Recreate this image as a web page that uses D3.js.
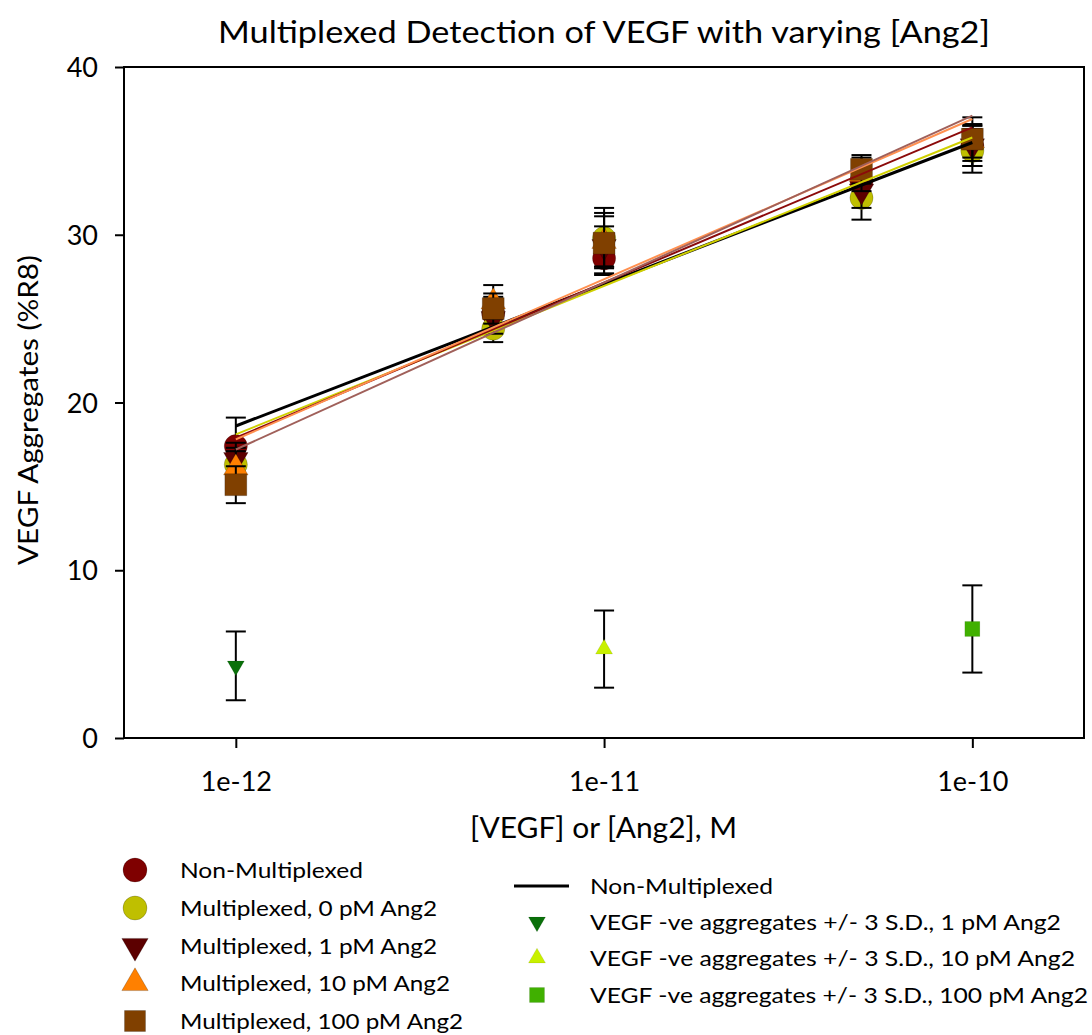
<!DOCTYPE html>
<html>
<head>
<meta charset="utf-8">
<script src="https://cdn.jsdelivr.net/npm/d3@7"></script>
<style>
  body { margin: 0; background: #fff; }
  text { font-family: Lato, "Open Sans", sans-serif; fill: #000; }
</style>
</head>
<body>
<svg id="chart" width="1092" height="1035"></svg>
<script>
// VEGF concentrations (M) at which aggregates were measured
const concentrations = [1e-12, 5e-12, 1e-11, 5e-11, 1e-10];

// Mean VEGF aggregates (%R8) and error for each assay condition
const nonMultiplexed    = [17.4, 25.3, 28.6, 33.2, 35.3];
const nonMultiplexedErr = [1.7, 1.0, 1.0, 1.0, 1.2];
const mux0pM            = [16.3, 24.4, 29.8, 32.2, 35.0];
const mux0pMErr         = [1.0, 0.8, 1.8, 1.3, 1.3];
const mux1pM            = [16.6, 25.0, 29.3, 32.6, 35.3];
const mux1pMErr         = [1.0, 0.9, 1.2, 1.0, 1.2];
const mux10pM           = [16.1, 26.0, 29.6, 33.6, 35.6];
const mux10pMErr        = [1.0, 1.0, 1.5, 1.0, 1.0];
const mux100pM          = [15.1, 25.6, 29.5, 33.9, 35.7];
const mux100pMErr       = [1.1, 0.9, 1.8, 0.85, 1.3];

// Linear fits against log10[VEGF], evaluated at 1e-12 and 1e-10 M
const fitFrom = [18.6, 18.1, 17.9, 17.8, 17.2];
const fitTo   = [35.5, 35.8, 36.4, 36.9, 37.1];
const fitRange = [1e-12, 1e-10];

// VEGF-negative background aggregates (+/- 3 S.D.)
const negConcentrations = [1e-12, 1e-11, 1e-10];
const negValues = [4.3, 5.3, 6.5];
const negErr    = [2.05, 2.3, 2.6];

const seriesLabels = ["Non-Multiplexed", "Multiplexed, 0 pM Ang2", "Multiplexed, 1 pM Ang2",
                      "Multiplexed, 10 pM Ang2", "Multiplexed, 100 pM Ang2"];
const negLabels = ["VEGF -ve aggregates +/- 3 S.D., 1 pM Ang2",
                   "VEGF -ve aggregates +/- 3 S.D., 10 pM Ang2",
                   "VEGF -ve aggregates +/- 3 S.D., 100 pM Ang2"];
const fitLegendLabel = "Non-Multiplexed";
const xTickValues = [1e-12, 1e-11, 1e-10];
const xTickLabels = ["1e-12", "1e-11", "1e-10"];
const yTickValues = [0, 10, 20, 30, 40];

const series = [
  { label: seriesLabels[0], values: nonMultiplexed, err: nonMultiplexedErr, shape: "circle", fill: "#7f0000", line: "#000000", lw: 3 },
  { label: seriesLabels[1], values: mux0pM,         err: mux0pMErr,         shape: "circle", fill: "#bfbf00", line: "#d0d000", lw: 2 },
  { label: seriesLabels[2], values: mux1pM,         err: mux1pMErr,         shape: "down",   fill: "#5c0000", line: "#8b0a0a", lw: 2 },
  { label: seriesLabels[3], values: mux10pM,        err: mux10pMErr,        shape: "up",     fill: "#ff8000", line: "#ff9050", lw: 2 },
  { label: seriesLabels[4], values: mux100pM,       err: mux100pMErr,       shape: "square", fill: "#804000", line: "#a0605a", lw: 2 }
];
series.forEach((s, i) => { s.fitFrom = fitFrom[i]; s.fitTo = fitTo[i]; });

const negSeries = negConcentrations.map((c, i) => ({
  x: c, y: negValues[i], e: negErr[i], label: negLabels[i],
  shape: ["down", "up", "square"][i],
  fill: ["#0a700a", "#c8f000", "#40b000"][i]
}));

const svg = d3.select("#chart");
svg.append("rect").attr("width", 1092).attr("height", 1035).attr("fill", "#fff");

const plot = { left: 124, right: 1084, top: 67, bottom: 738 };
const x = d3.scaleLog().domain([4.97e-13, 2.01e-10]).range([plot.left, plot.right]);
const y = d3.scaleLinear().domain([0, 40]).range([plot.bottom, plot.top]);

function symbolPath(shape, size) {
  if (shape === "circle") return d3.symbol(d3.symbolCircle, size)();
  if (shape === "square") return d3.symbol(d3.symbolSquare, size)();
  return d3.symbol(d3.symbolTriangle, size)();
}
function symbolTransform(shape, cx, cy) {
  return `translate(${cx},${cy})` + (shape === "down" ? " rotate(180)" : "");
}
// Fit a label to a given run length (the humanist face is wider than the fallback)
function fitText(sel, len) {
  return sel.attr("textLength", len).attr("lengthAdjust", "spacingAndGlyphs");
}
const markerSize = { circle: 420, square: 480, up: 260, down: 260 };
const negSize = { square: 225, up: 125, down: 125 };

// Axes: y on the left, x on the bottom, plus the frame
const yAxis = d3.axisLeft(y).tickValues(yTickValues).tickSize(9).tickPadding(17);
const gy = svg.append("g").attr("transform", `translate(${plot.left},0)`).call(yAxis);
gy.select(".domain").remove();
gy.selectAll("line").attr("stroke", "#000").attr("stroke-width", 2);
gy.selectAll("text").style("font-size", "27px").attr("dy", "0.36em");

const xAxis = d3.axisBottom(x).tickValues(xTickValues)
  .tickFormat((d, i) => xTickLabels[i]).tickSize(10).tickPadding(24);
const gx = svg.append("g").attr("transform", `translate(0,${plot.bottom})`).call(xAxis);
gx.select(".domain").remove();
gx.selectAll("line").attr("stroke", "#000").attr("stroke-width", 2);
gx.selectAll("text").style("font-size", "27px");

svg.append("rect")
  .attr("x", plot.left).attr("y", plot.top)
  .attr("width", plot.right - plot.left).attr("height", plot.bottom - plot.top)
  .attr("fill", "none").attr("stroke", "#000").attr("stroke-width", 2);

// Error bars then markers, one condition after another
const capHalf = 10;
function errorBar(g, cx, v, e) {
  const top = y(v + e), bot = y(v - e);
  g.append("line").attr("x1", cx).attr("x2", cx).attr("y1", top).attr("y2", bot);
  g.append("line").attr("x1", cx - capHalf).attr("x2", cx + capHalf).attr("y1", top).attr("y2", top);
  g.append("line").attr("x1", cx - capHalf).attr("x2", cx + capHalf).attr("y1", bot).attr("y2", bot);
}

const marks = svg.append("g");
series.forEach(s => {
  const gs = marks.append("g");
  const eb = gs.append("g").attr("stroke", "#000").attr("stroke-width", 2);
  s.values.forEach((v, i) => errorBar(eb, x(concentrations[i]), v, s.err[i]));
  s.values.forEach((v, i) => {
    gs.append("path")
      .attr("d", symbolPath(s.shape, markerSize[s.shape]))
      .attr("transform", symbolTransform(s.shape, x(concentrations[i]), y(v)))
      .attr("fill", s.fill).attr("stroke", "rgba(0,0,0,0.25)").attr("stroke-width", 0.8);
  });
});

// Fitted regression lines
const fitLine = d3.line().x(d => x(d[0])).y(d => y(d[1]));
series.forEach(s => {
  svg.append("path")
    .attr("d", fitLine([[fitRange[0], s.fitFrom], [fitRange[1], s.fitTo]]))
    .attr("fill", "none").attr("stroke", s.line).attr("stroke-width", s.lw);
});

// Negative-control points with +/- 3 S.D. bars
const neg = svg.append("g");
negSeries.forEach(d => {
  const eb = neg.append("g").attr("stroke", "#000").attr("stroke-width", 2);
  errorBar(eb, x(d.x), d.y, d.e);
  neg.append("path")
    .attr("d", symbolPath(d.shape, negSize[d.shape]))
    .attr("transform", symbolTransform(d.shape, x(d.x), y(d.y)))
    .attr("fill", d.fill).attr("stroke", "rgba(0,0,0,0.15)").attr("stroke-width", 0.6);
});

// Titles
fitText(svg.append("text").attr("x", 218).attr("y", 43)
  .style("font-size", "30px").text("Multiplexed Detection of VEGF with varying [Ang2]"), 772);
fitText(svg.append("text").attr("x", 470).attr("y", 838)
  .style("font-size", "28px").text("[VEGF] or [Ang2], M"), 267);
fitText(svg.append("text").attr("transform", "translate(38,565) rotate(-90)")
  .style("font-size", "26px").text("VEGF Aggregates (%R8)"), 310);

// Legend: assay conditions
const legendL = svg.append("g");
const legendRowsL = [870, 908, 946, 983, 1021];
const legendEndsL = [363, 437, 437, 450, 463];
const legendSize = { circle: 450, square: 440, up: 300, down: 300 };
series.forEach((s, i) => {
  legendL.append("path")
    .attr("d", symbolPath(s.shape, legendSize[s.shape]))
    .attr("transform", symbolTransform(s.shape, 135, legendRowsL[i]))
    .attr("fill", s.fill).attr("stroke", "rgba(0,0,0,0.25)").attr("stroke-width", 0.8);
  fitText(legendL.append("text").attr("x", 180).attr("y", legendRowsL[i]).attr("dy", "0.35em")
    .style("font-size", "22px").text(s.label), legendEndsL[i] - 180);
});

// Legend: fit line and negative controls
const legendR = svg.append("g");
const legendRowsR = [886, 922, 958, 995];
const legendEndsR = [773, 1061, 1075, 1088];
legendR.append("line").attr("x1", 514).attr("x2", 569).attr("y1", legendRowsR[0]).attr("y2", legendRowsR[0])
  .attr("stroke", "#000").attr("stroke-width", 3);
fitText(legendR.append("text").attr("x", 590).attr("y", legendRowsR[0]).attr("dy", "0.35em")
  .style("font-size", "22px").text(fitLegendLabel), legendEndsR[0] - 590);
negSeries.forEach((d, i) => {
  legendR.append("path")
    .attr("d", symbolPath(d.shape, negSize[d.shape]))
    .attr("transform", symbolTransform(d.shape, 537, legendRowsR[i + 1]))
    .attr("fill", d.fill).attr("stroke", "rgba(0,0,0,0.15)").attr("stroke-width", 0.6);
  fitText(legendR.append("text").attr("x", 590).attr("y", legendRowsR[i + 1]).attr("dy", "0.35em")
    .style("font-size", "22px").text(d.label), legendEndsR[i + 1] - 590);
});
</script>
</body>
</html>
